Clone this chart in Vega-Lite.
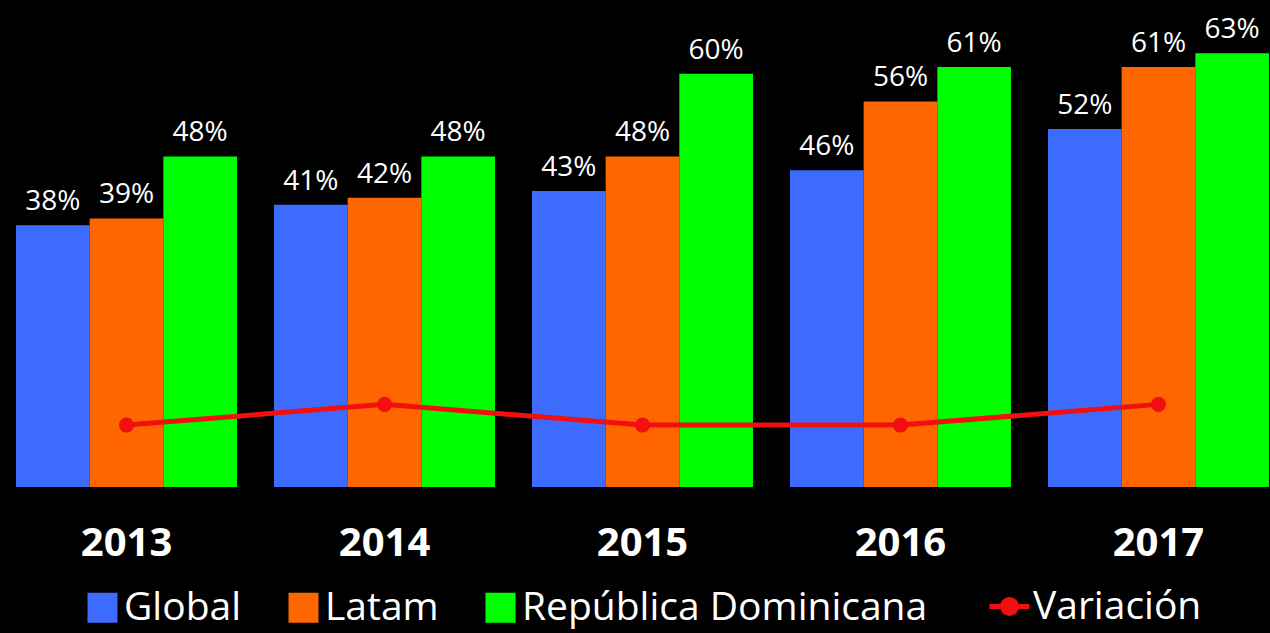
{
  "$schema": "https://vega.github.io/schema/vega-lite/v6.json",
  "width": 1270,
  "height": 482,
  "autosize": {"type": "none"},
  "padding": {"left": 0, "top": 5, "right": 0, "bottom": 146},
  "background": "#000000",
  "config": {"view": {"stroke": null}, "font": "Open Sans"},
  "datasets": {
    "bars": [
      {"year": "2013", "serie": "Global", "value": 0.38},
      {"year": "2013", "serie": "Latam", "value": 0.39},
      {"year": "2013", "serie": "República Dominicana", "value": 0.48},
      {"year": "2014", "serie": "Global", "value": 0.41},
      {"year": "2014", "serie": "Latam", "value": 0.42},
      {"year": "2014", "serie": "República Dominicana", "value": 0.48},
      {"year": "2015", "serie": "Global", "value": 0.43},
      {"year": "2015", "serie": "Latam", "value": 0.48},
      {"year": "2015", "serie": "República Dominicana", "value": 0.60},
      {"year": "2016", "serie": "Global", "value": 0.46},
      {"year": "2016", "serie": "Latam", "value": 0.56},
      {"year": "2016", "serie": "República Dominicana", "value": 0.61},
      {"year": "2017", "serie": "Global", "value": 0.52},
      {"year": "2017", "serie": "Latam", "value": 0.61},
      {"year": "2017", "serie": "República Dominicana", "value": 0.63}
    ],
    "line": [
      {"year": "2013", "serie": "Variación", "variacion": 0.09},
      {"year": "2014", "serie": "Variación", "variacion": 0.12},
      {"year": "2015", "serie": "Variación", "variacion": 0.09},
      {"year": "2016", "serie": "Variación", "variacion": 0.09},
      {"year": "2017", "serie": "Variación", "variacion": 0.12}
    ]
  },
  "layer": [
    {
      "data": {"name": "bars"},
      "mark": {"type": "bar"},
      "encoding": {
        "x": {
          "field": "year", "type": "nominal",
          "scale": {"paddingInner": 0.1434, "paddingOuter": 0.033, "align": 0.94},
          "axis": {"title": null, "domain": false, "ticks": false, "tickSize": 0, "grid": false,
                   "labelPadding": 68, "labelBaseline": "alphabetic", "labelAngle": 0,
                   "labelColor": "#ffffff", "labelFont": "Open Sans", "labelFontSize": 40, "labelFontWeight": "bold"}
        },
        "xOffset": {
          "field": "serie", "type": "nominal",
          "sort": ["Global", "Latam", "República Dominicana"],
          "scale": {"paddingInner": 0, "paddingOuter": 0}
        },
        "y": {"field": "value", "type": "quantitative", "scale": {"domain": [0, 0.7]}, "axis": null},
        "color": {
          "field": "serie", "type": "nominal",
          "sort": ["Global", "Latam", "República Dominicana"],
          "scale": {"domain": ["Global", "Latam", "República Dominicana"], "range": ["#3d6bfd", "#ff6600", "#00ff00"]},
          "legend": {
            "title": null, "orient": "none", "legendX": 83, "legendY": 583, "direction": "horizontal",
            "symbolType": "square", "symbolSize": 900, "symbolStrokeWidth": 0, "symbolOpacity": 1,
            "labelColor": "#ffffff", "labelFont": "Open Sans", "labelFontSize": 39, "labelOffset": 2,
            "columnPadding": 42, "labelLimit": 0, "padding": 0
          }
        }
      }
    },
    {
      "data": {"name": "bars"},
      "mark": {"type": "text", "dy": -15, "baseline": "alphabetic", "align": "center", "fontSize": 28, "color": "#ffffff", "font": "Open Sans"},
      "encoding": {
        "x": {"field": "year", "type": "nominal"},
        "xOffset": {"field": "serie", "type": "nominal", "sort": ["Global", "Latam", "República Dominicana"]},
        "y": {"field": "value", "type": "quantitative"},
        "text": {"field": "value", "type": "quantitative", "format": ".0%"}
      }
    },
    {
      "data": {"name": "line"},
      "mark": {"type": "line", "strokeWidth": 5},
      "encoding": {
        "x": {"field": "year", "type": "nominal"},
        "y": {"field": "variacion", "type": "quantitative"},
        "stroke": {
          "field": "serie", "type": "nominal",
          "scale": {"domain": ["Variación"], "range": ["#f20f0f"]},
          "legend": {
            "title": null, "orient": "none", "legendX": 987, "legendY": 579,
            "symbolType": "M-1,0H1M0.35,0A0.35,0.35,0,1,1,-0.35,0A0.35,0.35,0,1,1,0.35,0Z",
            "symbolSize": 1600, "symbolStrokeWidth": 5, "symbolFillColor": "#f20f0f",
            "labelColor": "#ffffff", "labelFont": "Open Sans", "labelFontSize": 39, "labelOffset": 1,
            "labelLimit": 0, "padding": 0,
            "encode": {"symbols": {"update": {"fill": {"value": "#f20f0f"}, "fillOpacity": {"value": 1}}}}
          }
        }
      }
    },
    {
      "data": {"name": "line"},
      "mark": {"type": "circle", "size": 230, "color": "#f20f0f", "opacity": 1},
      "encoding": {
        "x": {"field": "year", "type": "nominal"},
        "y": {"field": "variacion", "type": "quantitative"}
      }
    }
  ]
}
